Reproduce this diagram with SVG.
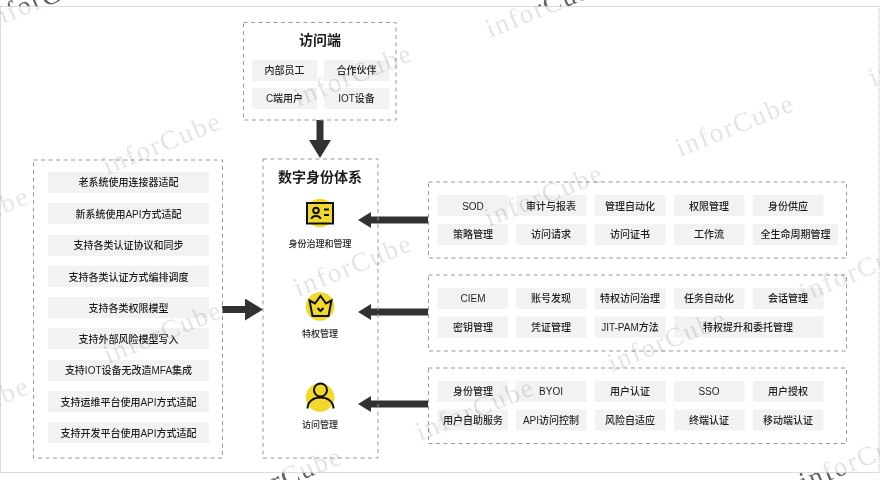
<svg xmlns="http://www.w3.org/2000/svg" width="880" height="480" viewBox="0 0 880 480">
<style>
text{font-family:"Liberation Sans","Noto Sans CJK SC",sans-serif;fill:#1f1f1f;text-anchor:middle}
.frame{fill:none;stroke:#bbb;stroke-width:1;stroke-dasharray:1 1}
.box{fill:none;stroke:#999;stroke-width:1;stroke-dasharray:4 3.5}
.chip{fill:#f2f2f2}
.t{font-size:10px;font-weight:500}
.h{font-size:14px;font-weight:700}
.l{font-size:9px;font-weight:500}
text.wm{font-family:"Liberation Serif",serif;font-size:27px;letter-spacing:1.8px;fill:#000;fill-opacity:.11;text-anchor:start}
text.wd{fill:#444;fill-opacity:.8}
.arrow{fill:none;stroke:#333;stroke-width:7}
.ico{fill:#f2d82a}
.ln{fill:none;stroke:#111;stroke-width:2}
</style>
<defs>
<marker id="hs" markerUnits="userSpaceOnUse" markerWidth="13" markerHeight="16" refX="0" refY="8" orient="auto"><path d="M0 0L13 8L0 16Z" fill="#333"/></marker>
<marker id="hb" markerUnits="userSpaceOnUse" markerWidth="18" markerHeight="22" refX="0" refY="11" orient="auto"><path d="M0 0L18 11L0 22Z" fill="#333"/></marker>
<clipPath id="out"><path d="M0 0H880V6H0ZM0 473H880V480H0Z"/></clipPath>
<filter id="soft" x="0" y="0" width="100%" height="100%"><feGaussianBlur stdDeviation="0.3"/></filter>
</defs>
<g filter="url(#soft)">
<rect x="0" y="0" width="880" height="480" fill="#fff"/>
<rect class="frame" x="0.5" y="6.5" width="878.5" height="466"/>
<g id="connectors">
<path class="arrow" d="M320 120V140" marker-end="url(#hb)"/>
<path class="arrow" d="M222 309.500H245" marker-end="url(#hb)"/>
<path class="arrow" d="M428 220H371" marker-end="url(#hs)"/>
<path class="arrow" d="M428 312H371" marker-end="url(#hs)"/>
<path class="arrow" d="M428 404H371" marker-end="url(#hs)"/>
</g>
<g id="access">
<rect class="box" x="243.500" y="22.500" width="152.500" height="97.500"/>
<text class="h" x="320" y="45">访问端</text>
<rect class="chip" x="252" y="60" width="65" height="21"/><text class="t" x="284.500" y="74">内部员工</text>
<rect class="chip" x="324" y="60" width="65" height="21"/><text class="t" x="356.500" y="74">合作伙伴</text>
<rect class="chip" x="252" y="88" width="65" height="21"/><text class="t" x="284.500" y="102">C端用户</text>
<rect class="chip" x="324" y="88" width="65" height="21"/><text class="t" x="356.500" y="102">IOT设备</text>
</g>
<g id="adapters">
<rect class="box" x="33.500" y="160" width="189" height="298"/>
<rect class="chip" x="48" y="172" width="161" height="21"/><text class="t" x="128.500" y="186">老系统使用连接器适配</text>
<rect class="chip" x="48" y="203" width="161" height="21"/><text class="t" x="128.500" y="217.500">新系统使用API方式适配</text>
<rect class="chip" x="48" y="235" width="161" height="21"/><text class="t" x="128.500" y="249">支持各类认证协议和同步</text>
<rect class="chip" x="48" y="266" width="161" height="21"/><text class="t" x="128.500" y="280.500">支持各类认证方式编排调度</text>
<rect class="chip" x="48" y="297" width="161" height="21"/><text class="t" x="128.500" y="311.500">支持各类权限模型</text>
<rect class="chip" x="48" y="328" width="161" height="21"/><text class="t" x="128.500" y="342.500">支持外部风险模型写入</text>
<rect class="chip" x="48" y="360" width="161" height="21"/><text class="t" x="128.500" y="374">支持IOT设备无改造MFA集成</text>
<rect class="chip" x="48" y="391" width="161" height="21"/><text class="t" x="128.500" y="405.500">支持运维平台使用API方式适配</text>
<rect class="chip" x="48" y="422" width="161" height="21"/><text class="t" x="128.500" y="436.500">支持开发平台使用API方式适配</text>
</g>
<g id="identity-system">
<rect class="box" x="263" y="159" width="115" height="299"/>
<text class="h" x="320" y="182">数字身份体系</text>
<g id="icon-governance">
<circle class="ico" cx="320" cy="213" r="14.300"/>
<rect class="ln" x="307" y="203" width="26" height="20.500"/>
<circle class="ln" cx="316" cy="210.500" r="2.800" stroke-width="1.600"/>
<path class="ln" stroke-width="1.600" d="M311.500 219C312 215 320 215 320.500 219M324 209.500H329M324 215H329"/>
</g>
<text class="l" x="320" y="247">身份治理和管理</text>
<g id="icon-privilege">
<circle class="ico" cx="320" cy="306.500" r="14.300"/>
<path class="ln" d="M312.500 316H328.500L331.500 300.500L326 303.500L320.500 296L315 303.500L309.500 300.500Z"/>
<path class="ln" stroke-width="1.600" d="M317.500 308L320.500 311L323.500 308"/>
</g>
<text class="l" x="320" y="337">特权管理</text>
<g id="icon-access">
<circle class="ico" cx="320" cy="397.500" r="14.300"/>
<circle class="ln" cx="320.500" cy="390" r="6.500"/>
<path class="ln" d="M307.500 408.500C307.500 401 314 397.500 320.500 397.500C327 397.500 333.500 401 333.500 408.500"/>
</g>
<text class="l" x="320" y="428">访问管理</text>
</g>
<g id="governance">
<rect class="box" x="428.500" y="182" width="418" height="76"/>
<rect class="chip" x="437.500" y="195" width="70.500" height="21"/><text class="t" x="473" y="209.500">SOD</text>
<rect class="chip" x="516" y="195" width="70.500" height="21"/><text class="t" x="551" y="209.500">审计与报表</text>
<rect class="chip" x="595" y="195" width="70.500" height="21"/><text class="t" x="630" y="209.500">管理自动化</text>
<rect class="chip" x="674" y="195" width="70.500" height="21"/><text class="t" x="709" y="209.500">权限管理</text>
<rect class="chip" x="753" y="195" width="70.500" height="21"/><text class="t" x="788" y="209.500">身份供应</text>
<rect class="chip" x="437.500" y="224" width="70.500" height="21"/><text class="t" x="473" y="238">策略管理</text>
<rect class="chip" x="516" y="224" width="70.500" height="21"/><text class="t" x="551" y="238">访问请求</text>
<rect class="chip" x="595" y="224" width="70.500" height="21"/><text class="t" x="630" y="238">访问证书</text>
<rect class="chip" x="674" y="224" width="70.500" height="21"/><text class="t" x="709" y="238">工作流</text>
<rect class="chip" x="753" y="224" width="85" height="21"/><text class="t" x="795.500" y="238">全生命周期管理</text>
</g>
<g id="privilege">
<rect class="box" x="428.500" y="275" width="418" height="76"/>
<rect class="chip" x="437.500" y="288" width="70.500" height="21"/><text class="t" x="473" y="302">CIEM</text>
<rect class="chip" x="516" y="288" width="70.500" height="21"/><text class="t" x="551" y="302">账号发现</text>
<rect class="chip" x="595" y="288" width="70.500" height="21"/><text class="t" x="630" y="302">特权访问治理</text>
<rect class="chip" x="674" y="288" width="70.500" height="21"/><text class="t" x="709" y="302">任务自动化</text>
<rect class="chip" x="753" y="288" width="70.500" height="21"/><text class="t" x="788" y="302">会话管理</text>
<rect class="chip" x="437.500" y="316.500" width="70.500" height="21"/><text class="t" x="473" y="331">密钥管理</text>
<rect class="chip" x="516" y="316.500" width="70.500" height="21"/><text class="t" x="551" y="331">凭证管理</text>
<rect class="chip" x="595" y="316.500" width="70.500" height="21"/><text class="t" x="630" y="331">JIT-PAM方法</text>
<rect class="chip" x="674" y="316.500" width="149.500" height="21"/><text class="t" x="748" y="331">特权提升和委托管理</text>
</g>
<g id="access-management">
<rect class="box" x="428.500" y="368" width="418" height="75.500"/>
<rect class="chip" x="437.500" y="381" width="70.500" height="21"/><text class="t" x="473" y="395">身份管理</text>
<rect class="chip" x="516" y="381" width="70.500" height="21"/><text class="t" x="551" y="395">BYOI</text>
<rect class="chip" x="595" y="381" width="70.500" height="21"/><text class="t" x="630" y="395">用户认证</text>
<rect class="chip" x="674" y="381" width="70.500" height="21"/><text class="t" x="709" y="395">SSO</text>
<rect class="chip" x="753" y="381" width="70.500" height="21"/><text class="t" x="788" y="395">用户授权</text>
<rect class="chip" x="437.500" y="409.500" width="70.500" height="21"/><text class="t" x="473" y="424">用户自助服务</text>
<rect class="chip" x="516" y="409.500" width="70.500" height="21"/><text class="t" x="551" y="424">API访问控制</text>
<rect class="chip" x="595" y="409.500" width="70.500" height="21"/><text class="t" x="630" y="424">风险自适应</text>
<rect class="chip" x="674" y="409.500" width="70.500" height="21"/><text class="t" x="709" y="424">终端认证</text>
<rect class="chip" x="753" y="409.500" width="70.500" height="21"/><text class="t" x="788" y="424">移动端认证</text>
</g>
<g id="watermarks">
<text class="wm" transform="translate(-12 30) rotate(-22)">inforCube</text>
<text class="wm" transform="translate(107 175) rotate(-22)">inforCube</text>
<text class="wm" transform="translate(-85 250) rotate(-22)">inforCube</text>
<text class="wm" transform="translate(-85 440) rotate(-22)">inforCube</text>
<text class="wm" transform="translate(108 364) rotate(-22)">inforCube</text>
<text class="wm" transform="translate(298 107) rotate(-22)">inforCube</text>
<text class="wm" transform="translate(298 297) rotate(-22)">inforCube</text>
<text class="wm" transform="translate(489 227) rotate(-22)">inforCube</text>
<text class="wm" transform="translate(490 38) rotate(-22)">inforCube</text>
<text class="wm" transform="translate(680 157) rotate(-22)">inforCube</text>
<text class="wm" transform="translate(873 87) rotate(-22)">inforCube</text>
<text class="wm" transform="translate(612 372) rotate(-22)">inforCube</text>
<text class="wm" transform="translate(804 302) rotate(-22)">inforCube</text>
<text class="wm" transform="translate(420 441) rotate(-22)">inforCube</text>
<text class="wm" transform="translate(228 510) rotate(-22)">inforCube</text>
<text class="wm" transform="translate(804 491) rotate(-22)">inforCube</text>
<g clip-path="url(#out)">
<text class="wm wd" transform="translate(-12 30) rotate(-22)">inforCube</text>
<text class="wm wd" transform="translate(490 38) rotate(-22)">inforCube</text>
<text class="wm wd" transform="translate(228 510) rotate(-22)">inforCube</text>
<text class="wm wd" transform="translate(804 491) rotate(-22)">inforCube</text>
</g>
</g>
</g>
</svg>
